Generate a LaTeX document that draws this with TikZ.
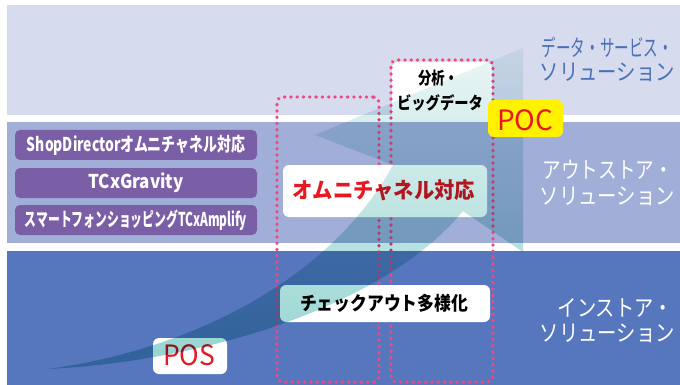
\documentclass[tikz,border=0pt]{standalone}
\usepackage{fontspec}
\usepackage{graphicx}
\setmainfont{Noto Sans CJK JP}
\definecolor{topband}{RGB}{214,219,238}
\definecolor{midband}{RGB}{161,174,216}
\definecolor{lowband}{RGB}{86,119,189}
\definecolor{purplebox}{RGB}{123,95,166}
\definecolor{dotpink}{RGB}{240,72,132}
\definecolor{redtext}{RGB}{230,25,35}
\definecolor{pocyellow}{RGB}{255,241,0}
\definecolor{labelblue}{RGB}{74,112,184}
\definecolor{arrowtop}{RGB}{236,246,246}
\definecolor{arrowmid}{RGB}{178,225,222}
\definecolor{arrowbot}{RGB}{148,212,208}
\newcommand\fitw[2]{\resizebox{#1pt}{\height}{#2}}
\begin{document}
\begin{tikzpicture}[x=1pt,y=-1pt,
  pbox/.style={fill=purplebox, rounded corners=5pt, minimum width=242pt, minimum height=30pt, inner sep=0pt, text=white, font=\fontsize{19}{19}\selectfont\bfseries},
  lbl/.style={inner sep=0pt, anchor=east, font=\fontsize{23}{23}\selectfont},
  dotbox/.style={draw=dotpink, line width=3.4pt, line cap=round, dash pattern=on 0.4pt off 5.9pt, rounded corners=6pt, inner sep=0pt},
  wbox/.style={fill=white, rounded corners=6pt, inner sep=0pt},
  txt/.style={inner sep=0pt}
]
\useasboundingbox (0,0) rectangle (680,385);
\fill[white] (0,0) rectangle (680,385);
% bands
\fill[topband] (7,5) rectangle (680,115);
\fill[midband] (7,122) rectangle (680,243);
\fill[lowband] (7,251) rectangle (680,385);
% purple boxes
\node[pbox] (p1) at (136,145) {\fitw{218}{ShopDirectorオムニチャネル対応}};
\node[pbox] (p2) at (136,183) {\fitw{95}{TCxGravity}};
\node[pbox] (p3) at (136,220) {\fitw{222}{スマートフォンショッピングTCxAmplify}};
% analysis white box
\node[wbox, minimum width=100pt, minimum height=60pt] (anbox) at (442,92) {};
% dotted frames
\node[dotbox, minimum width=102pt, minimum height=285pt] (dotL) at (328,239.5) {};
\node[dotbox, minimum width=102pt, minimum height=322pt] (dotR) at (442,221) {};
% content boxes
\node[wbox, minimum width=204pt, minimum height=52pt] (omni) at (385,191) {};
\node[txt, text=redtext, font=\fontsize{22}{22}\selectfont\bfseries] (omnit) at (384,190) {\fitw{182}{オムニチャネル対応}};
\node[wbox, minimum width=210pt, minimum height=37pt] (chk) at (385,303.5) {};
\node[txt, text=black, font=\fontsize{19}{19}\selectfont\bfseries] (chkt) at (384,303) {\fitw{168}{チェックアウト多様化}};
\node[wbox, minimum width=74pt, minimum height=36pt] (pos) at (190,356) {};
\node[txt, text=redtext, font=\fontsize{28}{28}\selectfont] (post) at (189,355) {\fitw{52}{POS}};
\node[txt, text=black, font=\fontsize{17}{17}\selectfont\bfseries] (an1) at (438,78) {\fitw{40}{分析・}};
\node[txt, text=black, font=\fontsize{17}{17}\selectfont\bfseries] (an2) at (440,103) {\fitw{86}{ビッグデータ}};
% big arrow (multiply)
\begin{scope}[blend mode=multiply]
\shade[top color=arrowtop, middle color=arrowmid, bottom color=arrowbot]
  (48,369) .. controls (220,360) and (390,300) .. (463,211)
  -- (523,252) -- (523,48) -- (315,135) -- (393,165)
  .. controls (330,280) and (190,350) .. (48,369) -- cycle;
\end{scope}
% POC
\node[wbox, fill=pocyellow, minimum width=75pt, minimum height=37pt] (poc) at (525.5,118.5) {};
\node[txt, text=redtext, font=\fontsize{28}{28}\selectfont] (poct) at (525,120) {\fitw{56}{POC}};
% right labels
\node[lbl, text=labelblue] (l1a) at (673,47) {\fitw{131}{データ・サービス・}};
\node[lbl, text=labelblue] (l1b) at (675,72) {\fitw{135}{ソリューション}};
\node[lbl, text=white] (l2a) at (673,170) {\fitw{130}{アウトストア・}};
\node[lbl, text=white] (l2b) at (675,196) {\fitw{135}{ソリューション}};
\node[lbl, text=white] (l3a) at (673,308) {\fitw{115}{インストア・}};
\node[lbl, text=white] (l3b) at (675,333) {\fitw{135}{ソリューション}};
\end{tikzpicture}
\end{document}
